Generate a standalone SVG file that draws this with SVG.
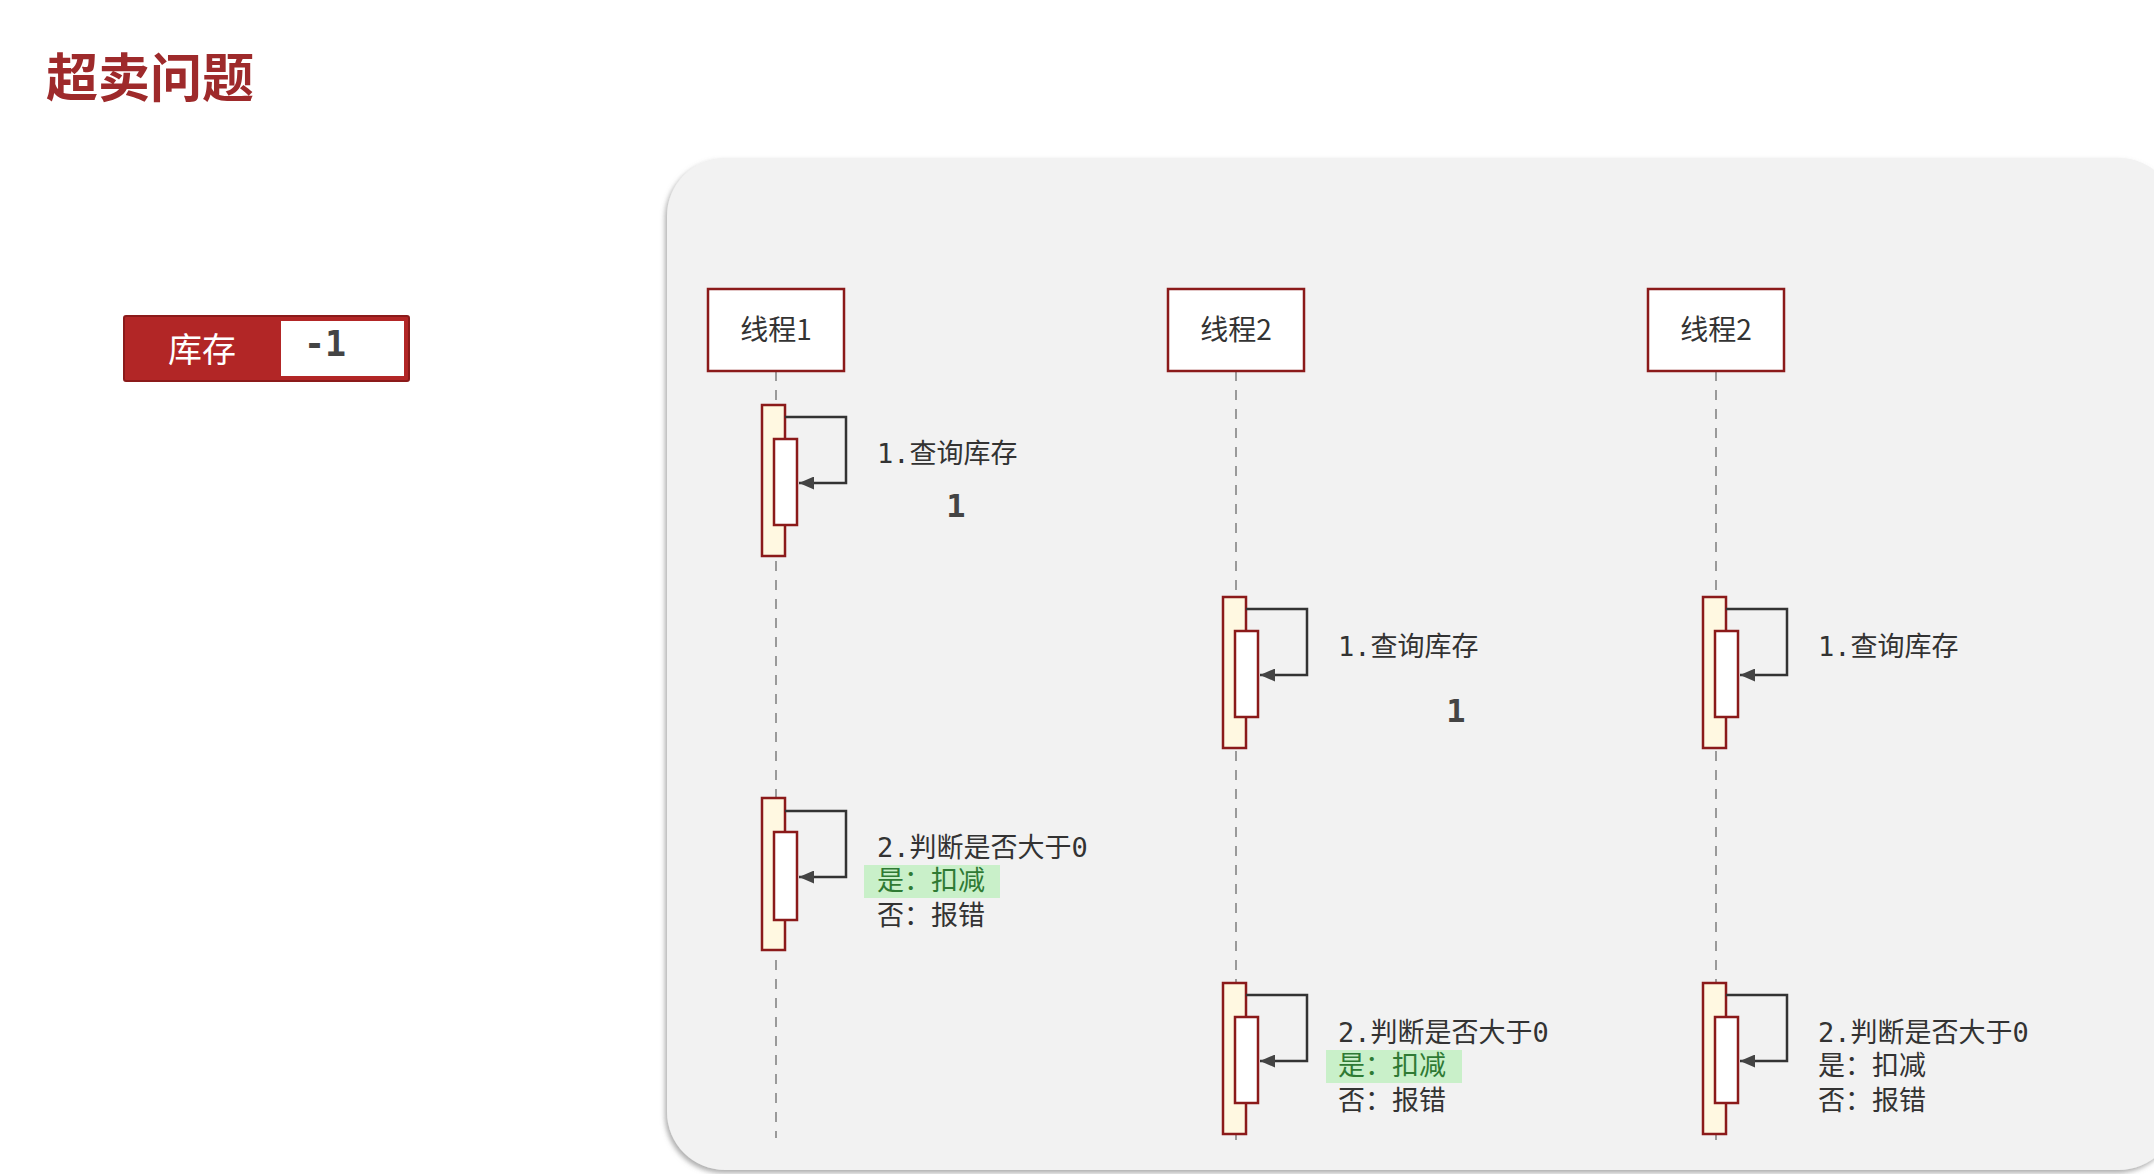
<svg xmlns="http://www.w3.org/2000/svg" width="2154" height="1174" viewBox="0 0 2154 1174">
<style>
.title{font-family:"Noto Sans CJK SC","Noto Sans",sans-serif;font-size:52px;font-weight:bold;fill:#9e2a2b}
.thr{fill:#fff;stroke:#8b1a1a;stroke-width:2.5}
.thrt{font-family:"Noto Sans CJK SC","Noto Sans",sans-serif;font-size:28px;fill:#333;text-anchor:middle}
.life{stroke:#9a9a9a;stroke-width:2;stroke-dasharray:10 9;fill:none}
.outer{fill:#fff8e1;stroke:#8b1a1a;stroke-width:2.5}
.inner{fill:#fff;stroke:#8b1a1a;stroke-width:2.5}
.msg{fill:none;stroke:#333;stroke-width:2.5}
.lbl{font-family:"DejaVu Sans Mono","Noto Sans CJK SC",monospace;font-size:27px;fill:#333}
.grn{fill:#2f7a34}
.gbg{fill:#c9f0c9}
.big{font-family:"DejaVu Sans Mono","Liberation Mono",monospace;font-size:32px;font-weight:bold;fill:#444;text-anchor:middle}
</style>
<defs>
<marker id="ah" markerUnits="userSpaceOnUse" markerWidth="15" markerHeight="13" refX="15" refY="6.5" orient="auto">
<path d="M0,0 L15,6.5 L0,13 z" fill="#444"/>
</marker>
<filter id="sh" x="-5%" y="-5%" width="110%" height="110%">
<feDropShadow dx="-2" dy="3" stdDeviation="2.5" flood-color="#777" flood-opacity="0.6"/>
</filter>
</defs>
<rect width="2154" height="1174" fill="#ffffff"/>
<text class="title" x="46" y="97">超卖问题</text>
<g id="stock">
<rect x="124" y="316" width="285" height="65" rx="2" fill="#b22626" stroke="#8b1a1a" stroke-width="2"/>
<rect x="281" y="321" width="123" height="55" fill="#ffffff"/>
<text x="202" y="362" font-family="Noto Sans CJK SC,sans-serif" font-size="34" fill="#ffffff" text-anchor="middle">库存</text>
<text x="304" y="356" font-family="DejaVu Sans Mono,monospace" font-size="35" font-weight="bold" fill="#444">-1</text>
</g>
<rect id="panel" x="667" y="158" width="1510" height="1012" rx="58" fill="#f2f2f2" filter="url(#sh)"/>
<g id="lifelines">
<line class="life" x1="776" y1="371" x2="776" y2="1138"/>
<line class="life" x1="1236" y1="371" x2="1236" y2="1140"/>
<line class="life" x1="1716" y1="371" x2="1716" y2="1140"/>
</g>
<g id="thread1">
<rect class="thr" x="708" y="289" width="136" height="82"/>
<text class="thrt" x="776" y="340">线程1</text>
</g>
<g id="thread2">
<rect class="thr" x="1168" y="289" width="136" height="82"/>
<text class="thrt" x="1236" y="340">线程2</text>
</g>
<g id="thread3">
<rect class="thr" x="1648" y="289" width="136" height="82"/>
<text class="thrt" x="1716" y="340">线程2</text>
</g>
<g id="t1-act1">
<rect class="outer" x="762" y="405" width="23" height="151"/>
<rect class="inner" x="774" y="439" width="23" height="86"/>
</g>
<g id="t1-act2">
<rect class="outer" x="762" y="798" width="23" height="152"/>
<rect class="inner" x="774" y="832" width="23" height="88"/>
</g>
<g id="t2-act1">
<rect class="outer" x="1223" y="597" width="23" height="151"/>
<rect class="inner" x="1235" y="631" width="23" height="86"/>
</g>
<g id="t2-act2">
<rect class="outer" x="1223" y="983" width="23" height="151"/>
<rect class="inner" x="1235" y="1017" width="23" height="86"/>
</g>
<g id="t3-act1">
<rect class="outer" x="1703" y="597" width="23" height="151"/>
<rect class="inner" x="1715" y="631" width="23" height="86"/>
</g>
<g id="t3-act2">
<rect class="outer" x="1703" y="983" width="23" height="151"/>
<rect class="inner" x="1715" y="1017" width="23" height="86"/>
</g>
<g id="connectors">
<path class="msg" d="M785,417 H846 V483 H799" marker-end="url(#ah)"/>
<path class="msg" d="M785,811 H846 V877 H799" marker-end="url(#ah)"/>
<path class="msg" d="M1246,609 H1307 V675 H1260" marker-end="url(#ah)"/>
<path class="msg" d="M1246,995 H1307 V1061 H1260" marker-end="url(#ah)"/>
<path class="msg" d="M1726,609 H1787 V675 H1740" marker-end="url(#ah)"/>
<path class="msg" d="M1726,995 H1787 V1061 H1740" marker-end="url(#ah)"/>
</g>
<g id="labels">
<text class="lbl" x="877" y="463">1.查询库存</text>
<text class="big" x="956" y="517">1</text>
<text class="lbl" x="877" y="857">2.判断是否大于0</text>
<rect class="gbg" x="864" y="865" width="136" height="33"/>
<text class="lbl grn" x="877" y="890">是：扣减</text>
<text class="lbl" x="877" y="925">否：报错</text>
<text class="lbl" x="1338" y="656">1.查询库存</text>
<text class="big" x="1456" y="722">1</text>
<text class="lbl" x="1338" y="1042">2.判断是否大于0</text>
<rect class="gbg" x="1326" y="1050" width="136" height="33"/>
<text class="lbl grn" x="1338" y="1075">是：扣减</text>
<text class="lbl" x="1338" y="1110">否：报错</text>
<text class="lbl" x="1818" y="656">1.查询库存</text>
<text class="lbl" x="1818" y="1042">2.判断是否大于0</text>
<text class="lbl" x="1818" y="1075">是：扣减</text>
<text class="lbl" x="1818" y="1110">否：报错</text>
</g>
</svg>
